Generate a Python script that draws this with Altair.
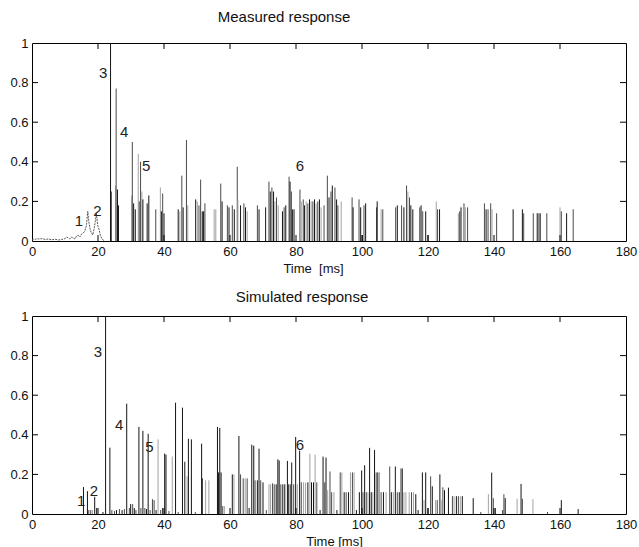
import altair as alt
import pandas as pd

FONT = "Liberation Sans"
W, H = 594, 198

x_tick_values = [0, 20, 40, 60, 80, 100, 120, 140, 160, 180]
y_tick_values = [0, 0.2, 0.4, 0.6, 0.8, 1]
x_inner_ticks = [20, 40, 60, 80, 100, 120, 140, 160]
y_inner_ticks = [0.2, 0.4, 0.6, 0.8]

# Measured response: (time ms, amplitude, shade)
meas_spikes = [
    (23.8, 1.0, "d"), (24.0, 0.25, "d"), (25.3, 0.28, "l"), (25.5, 0.77, "m"), (25.9, 0.26, "d"),
    (26.2, 0.18, "d"), (30.2, 0.23, "l"), (30.4, 0.50, "m"), (30.8, 0.19, "d"), (31.3, 0.16, "d"),
    (32.2, 0.44, "l"), (32.5, 0.20, "m"), (32.9, 0.40, "m"), (33.3, 0.25, "l"), (33.6, 0.21, "d"),
    (34.9, 0.19, "d"), (35.4, 0.23, "d"), (37.5, 0.16, "m"), (38.9, 0.27, "l"), (39.2, 0.15, "d"),
    (39.6, 0.24, "m"), (40.0, 0.14, "d"), (44.3, 0.16, "d"), (44.8, 0.15, "l"), (45.4, 0.33, "m"),
    (45.8, 0.17, "d"), (46.8, 0.51, "m"), (47.2, 0.18, "l"), (49.6, 0.21, "d"), (50.1, 0.20, "l"),
    (50.6, 0.18, "m"), (51.1, 0.31, "m"), (51.6, 0.15, "d"), (52.0, 0.15, "d"), (52.4, 0.19, "m"),
    (55.2, 0.16, "l"), (55.7, 0.16, "l"), (57.2, 0.29, "m"), (57.6, 0.20, "d"), (59.2, 0.18, "m"),
    (59.7, 0.17, "d"), (60.7, 0.18, "m"), (61.3, 0.16, "d"), (62.2, 0.375, "m"), (62.4, 0.21, "l"),
    (63.2, 0.18, "d"), (64.2, 0.19, "m"), (64.7, 0.17, "d"), (65.2, 0.15, "l"), (68.3, 0.18, "m"),
    (68.8, 0.16, "d"), (70.8, 0.17, "d"), (71.8, 0.30, "m"), (72.2, 0.25, "d"), (72.7, 0.27, "m"),
    (73.2, 0.25, "d"), (73.6, 0.20, "l"), (74.1, 0.22, "m"), (74.6, 0.18, "l"), (75.9, 0.15, "d"),
    (76.4, 0.17, "m"), (76.9, 0.18, "d"), (77.9, 0.325, "m"), (78.2, 0.30, "d"), (78.6, 0.25, "m"),
    (78.9, 0.16, "d"), (79.4, 0.16, "d"), (81.2, 0.26, "m"), (81.6, 0.20, "l"), (82.2, 0.21, "m"),
    (82.6, 0.18, "d"), (83.1, 0.20, "l"), (83.6, 0.19, "m"), (84.1, 0.21, "d"), (84.6, 0.20, "l"),
    (85.1, 0.20, "m"), (85.6, 0.21, "d"), (86.1, 0.19, "l"), (86.6, 0.20, "m"), (87.1, 0.21, "d"),
    (87.6, 0.17, "l"), (88.5, 0.18, "m"), (89.5, 0.33, "m"), (90.0, 0.22, "d"), (90.6, 0.25, "m"),
    (91.0, 0.28, "d"), (91.8, 0.27, "m"), (92.3, 0.21, "d"), (92.7, 0.18, "m"), (93.7, 0.20, "l"),
    (97.0, 0.22, "m"), (97.3, 0.17, "d"), (99.1, 0.21, "m"), (99.6, 0.17, "d"), (100.1, 0.03, "d"),
    (100.6, 0.18, "m"), (101.1, 0.19, "d"), (104.4, 0.17, "m"), (104.6, 0.20, "d"), (105.8, 0.16, "l"),
    (106.3, 0.16, "m"), (110.2, 0.17, "m"), (110.7, 0.18, "d"), (112.0, 0.18, "m"), (112.7, 0.17, "d"),
    (113.5, 0.28, "m"), (113.9, 0.25, "l"), (114.4, 0.22, "m"), (114.8, 0.18, "d"), (115.4, 0.16, "d"),
    (117.5, 0.17, "m"), (117.9, 0.18, "d"), (118.4, 0.15, "m"), (119.3, 0.15, "d"), (120.0, 0.03, "d"),
    (122.5, 0.20, "l"), (122.9, 0.16, "m"), (123.5, 0.16, "d"), (129.2, 0.14, "l"), (129.6, 0.15, "m"),
    (130.0, 0.17, "d"), (130.9, 0.19, "m"), (131.3, 0.17, "l"), (132.0, 0.17, "m"), (137.1, 0.19, "m"),
    (137.6, 0.16, "d"), (138.2, 0.16, "m"), (139.0, 0.19, "m"), (139.4, 0.16, "l"), (140.8, 0.14, "m"),
    (145.8, 0.16, "d"), (148.6, 0.16, "d"), (149.0, 0.14, "m"), (151.9, 0.14, "m"), (153.1, 0.14, "d"),
    (153.6, 0.14, "m"), (154.0, 0.14, "d"), (156.0, 0.14, "m"), (160.0, 0.17, "l"), (160.4, 0.15, "m"),
    (162.0, 0.14, "d"), (164.0, 0.16, "m"),
]

# Low-level measured onset (dotted trace) with peaks 1 and 2
meas_noise_t = [0, 0.5, 1, 1.5, 2, 3, 4, 5, 6, 7, 8, 9, 10, 10.5, 11, 11.5, 12, 12.5, 13, 13.5,
                14, 14.5, 15, 15.5, 16, 16.5, 16.9, 17.2, 17.6, 18, 18.4, 18.8, 19.2, 19.5, 19.9,
                20.3, 20.7, 21.2, 22]
meas_noise_v = [0.005, 0.01, 0.008, 0.012, 0.01, 0.012, 0.008, 0.01, 0.006, 0.009, 0.005, 0.008,
                0.012, 0.02, 0.015, 0.01, 0.02, 0.015, 0.01, 0.025, 0.03, 0.02, 0.035, 0.04, 0.05,
                0.08, 0.15, 0.10, 0.06, 0.04, 0.03, 0.06, 0.10, 0.14, 0.08, 0.06, 0.03, 0.01, 0.0]

# Simulated response: (time ms, amplitude, shade)
sim_spikes = [
    (15.6, 0.136, "d"), (16.8, 0.115, "d"), (17.2, 0.02, "m"), (17.8, 0.02, "m"), (18.3, 0.02, "l"),
    (19.0, 0.087, "d"), (19.6, 0.03, "d"), (21.5, 0.01, "d"), (22.3, 1.0, "d"), (23.6, 0.335, "d"),
    (24.2, 0.02, "m"), (25.0, 0.015, "m"), (25.6, 0.02, "d"), (26.5, 0.025, "m"), (27.3, 0.02, "d"),
    (28.0, 0.025, "m"), (28.7, 0.557, "d"), (29.5, 0.03, "m"), (29.9, 0.05, "d"), (30.5, 0.05, "m"),
    (31.0, 0.03, "d"), (31.5, 0.02, "m"), (32.4, 0.44, "d"), (33.0, 0.03, "m"), (33.6, 0.42, "d"),
    (34.2, 0.03, "m"), (34.7, 0.025, "d"), (35.2, 0.405, "d"), (35.8, 0.02, "m"), (36.5, 0.075, "m"),
    (37.0, 0.07, "m"), (37.6, 0.02, "d"), (38.2, 0.377, "l"), (39.0, 0.02, "m"), (39.6, 0.03, "d"),
    (40.2, 0.305, "d"), (40.6, 0.30, "d"), (41.5, 0.015, "m"), (42.5, 0.29, "l"), (43.5, 0.562, "d"),
    (44.3, 0.01, "m"), (45.6, 0.537, "d"), (46.3, 0.264, "d"), (47.0, 0.19, "l"), (47.4, 0.38, "d"),
    (48.3, 0.377, "d"), (49.5, 0.01, "m"), (51.4, 0.355, "d"), (51.6, 0.18, "d"), (52.6, 0.17, "l"),
    (53.6, 0.17, "l"), (56.2, 0.44, "d"), (56.5, 0.21, "d"), (56.9, 0.435, "d"), (57.3, 0.21, "d"),
    (57.8, 0.04, "m"), (58.3, 0.04, "l"), (60.7, 0.20, "d"), (61.2, 0.20, "l"), (62.7, 0.394, "d"),
    (63.2, 0.20, "m"), (64.0, 0.18, "m"), (64.6, 0.18, "l"), (65.2, 0.18, "m"), (65.8, 0.03, "d"),
    (66.6, 0.35, "d"), (67.2, 0.345, "d"), (67.6, 0.17, "m"), (68.3, 0.17, "d"), (68.8, 0.33, "d"),
    (69.3, 0.17, "m"), (70.0, 0.16, "d"), (71.0, 0.02, "m"), (71.8, 0.15, "l"), (72.3, 0.15, "l"),
    (72.9, 0.155, "m"), (73.4, 0.15, "m"), (74.0, 0.15, "d"), (74.5, 0.276, "d"), (74.9, 0.27, "d"),
    (75.4, 0.15, "m"), (76.0, 0.15, "d"), (76.6, 0.15, "d"), (77.4, 0.268, "d"), (77.8, 0.15, "d"),
    (78.3, 0.15, "m"), (78.7, 0.26, "d"), (79.3, 0.15, "m"), (79.9, 0.389, "d"), (80.4, 0.15, "l"),
    (81.1, 0.32, "d"), (81.6, 0.16, "m"), (82.3, 0.16, "l"), (82.9, 0.158, "l"), (83.6, 0.16, "d"),
    (84.2, 0.305, "l"), (84.7, 0.16, "d"), (85.3, 0.16, "d"), (85.8, 0.30, "l"), (86.3, 0.16, "m"),
    (87.3, 0.02, "d"), (88.2, 0.29, "d"), (88.7, 0.16, "m"), (89.1, 0.285, "d"), (89.6, 0.12, "l"),
    (90.3, 0.215, "m"), (90.8, 0.11, "m"), (91.5, 0.11, "l"), (92.4, 0.02, "d"), (93.4, 0.21, "m"),
    (93.9, 0.21, "l"), (94.6, 0.11, "d"), (95.2, 0.11, "m"), (95.9, 0.11, "d"), (96.5, 0.21, "l"),
    (97.1, 0.21, "m"), (97.6, 0.21, "l"), (98.3, 0.02, "d"), (99.2, 0.11, "d"), (99.9, 0.22, "d"),
    (100.3, 0.11, "m"), (100.8, 0.246, "d"), (101.3, 0.11, "m"), (101.8, 0.11, "l"), (102.3, 0.334, "d"),
    (102.8, 0.11, "d"), (103.3, 0.11, "l"), (103.8, 0.323, "d"), (104.3, 0.21, "m"), (104.8, 0.21, "d"),
    (105.3, 0.21, "l"), (105.8, 0.11, "m"), (106.5, 0.11, "d"), (107.3, 0.11, "l"), (108.4, 0.24, "m"),
    (108.9, 0.11, "d"), (109.5, 0.11, "l"), (110.1, 0.24, "d"), (110.7, 0.11, "m"), (111.3, 0.11, "d"),
    (111.8, 0.23, "m"), (112.2, 0.23, "d"), (112.7, 0.11, "l"), (113.3, 0.11, "l"), (114.3, 0.11, "l"),
    (115.0, 0.11, "m"), (115.6, 0.11, "l"), (116.3, 0.10, "d"), (117.0, 0.02, "d"), (118.3, 0.21, "d"),
    (118.8, 0.07, "l"), (119.3, 0.21, "d"), (120.0, 0.03, "d"), (120.8, 0.19, "m"), (121.3, 0.14, "d"),
    (122.3, 0.07, "l"), (122.8, 0.07, "m"), (123.6, 0.20, "d"), (124.0, 0.07, "l"), (124.5, 0.135, "m"),
    (125.0, 0.12, "d"), (126.2, 0.133, "d"), (127.4, 0.09, "m"), (127.9, 0.09, "l"), (128.6, 0.09, "d"),
    (129.2, 0.09, "m"), (129.8, 0.09, "l"), (130.4, 0.09, "d"), (133.7, 0.08, "d"), (136.0, 0.01, "m"),
    (138.3, 0.10, "l"), (139.3, 0.209, "d"), (139.8, 0.08, "m"), (140.4, 0.03, "d"), (142.6, 0.02, "m"),
    (143.0, 0.10, "m"), (143.4, 0.08, "d"), (147.0, 0.077, "l"), (148.2, 0.152, "d"), (148.6, 0.077, "m"),
    (151.8, 0.075, "l"), (156.2, 0.01, "m"), (160.4, 0.07, "d"), (165.5, 0.025, "d"),
]

# Reflection labels (text, time, amplitude)
meas_labels = [("1", 14.2, 0.10), ("2", 19.8, 0.15), ("3", 21.6, 0.85), ("4", 27.9, 0.55),
               ("5", 34.6, 0.38), ("6", 81.2, 0.38)]
sim_labels = [("1", 14.9, 0.065), ("2", 18.8, 0.115), ("3", 20.0, 0.82), ("4", 26.4, 0.45),
              ("5", 35.6, 0.34), ("6", 81.2, 0.35)]

shade_domain = ["d", "m", "l"]
shade_range = ["#141414", "#4a4a4a", "#a2a2a2"]

xs = alt.Scale(domain=[0, 180], nice=False, zero=False)
ys = alt.Scale(domain=[0, 1], nice=False)


def panel(spikes, labels, title, title_dx, title_offset, xtitle, xtitle_x, noise=None):
    xa = alt.Axis(values=x_tick_values, title=xtitle, titleX=xtitle_x, format="d")
    ya = alt.Axis(values=y_tick_values, format="~g", title=None)
    X = alt.X("t:Q", scale=xs, axis=xa)
    Y = alt.Y("v:Q", scale=ys, axis=ya)
    df = pd.DataFrame(spikes, columns=["t", "v", "s"])
    rules = alt.Chart(df).mark_rule(strokeWidth=1).encode(
        x=X, y=Y, y2=alt.datum(0),
        color=alt.Color("s:N", scale=alt.Scale(domain=shade_domain, range=shade_range), legend=None),
    )
    layers = [rules]
    if noise is not None:
        ndf = pd.DataFrame({"t": noise[0], "v": noise[1]})
        layers.append(alt.Chart(ndf).mark_line(strokeWidth=0.9, color="#444444",
                                              strokeDash=[2, 1]).encode(x=X, y=Y))
    xt = pd.DataFrame({"t": x_inner_ticks})
    yt = pd.DataFrame({"v": y_inner_ticks})
    layers.append(alt.Chart(xt).mark_rule(color="black", strokeWidth=1).encode(
        x=X, y=alt.value(H), y2=alt.value(H - 6)))
    layers.append(alt.Chart(xt).mark_rule(color="black", strokeWidth=1).encode(
        x=X, y=alt.value(0), y2=alt.value(6)))
    layers.append(alt.Chart(yt).mark_rule(color="black", strokeWidth=1).encode(
        y=Y, x=alt.value(0), x2=alt.value(6)))
    layers.append(alt.Chart(yt).mark_rule(color="black", strokeWidth=1).encode(
        y=Y, x=alt.value(W), x2=alt.value(W - 6)))
    ldf = pd.DataFrame(labels, columns=["lab", "t", "v"])
    layers.append(alt.Chart(ldf).mark_text(font=FONT, fontSize=15, color="#222222").encode(
        x=X, y=Y, text="lab:N"))
    return alt.layer(*layers).properties(
        width=W, height=H,
        title=alt.TitleParams(title, anchor="middle", dx=title_dx, fontSize=15,
                              fontWeight="normal", font=FONT, color="#111111",
                              offset=title_offset),
    )


top = panel(meas_spikes, meas_labels, "Measured response", -45, 12,
            "Time\u00a0\u00a0[ms]", 281, noise=(meas_noise_t, meas_noise_v))
bottom = panel(sim_spikes, sim_labels, "Simulated response", -27, 5, "Time [ms]", 302)

chart = alt.vconcat(top, bottom, spacing=13).properties(
    padding={"left": 9, "top": 9, "right": 0, "bottom": 0},
    background="white",
).configure_view(stroke="black", strokeWidth=1).configure_axis(
    labelFont=FONT, titleFont=FONT, labelFontSize=13, titleFontSize=13,
    titleFontWeight="normal", labelColor="#111111", titleColor="#111111",
    ticks=False, domain=False, grid=False, labelPadding=4, titlePadding=4,
).configure_axisX(labelFlush=False)

chart.save("out.html", embed_options={"renderer": "svg", "actions": False})
